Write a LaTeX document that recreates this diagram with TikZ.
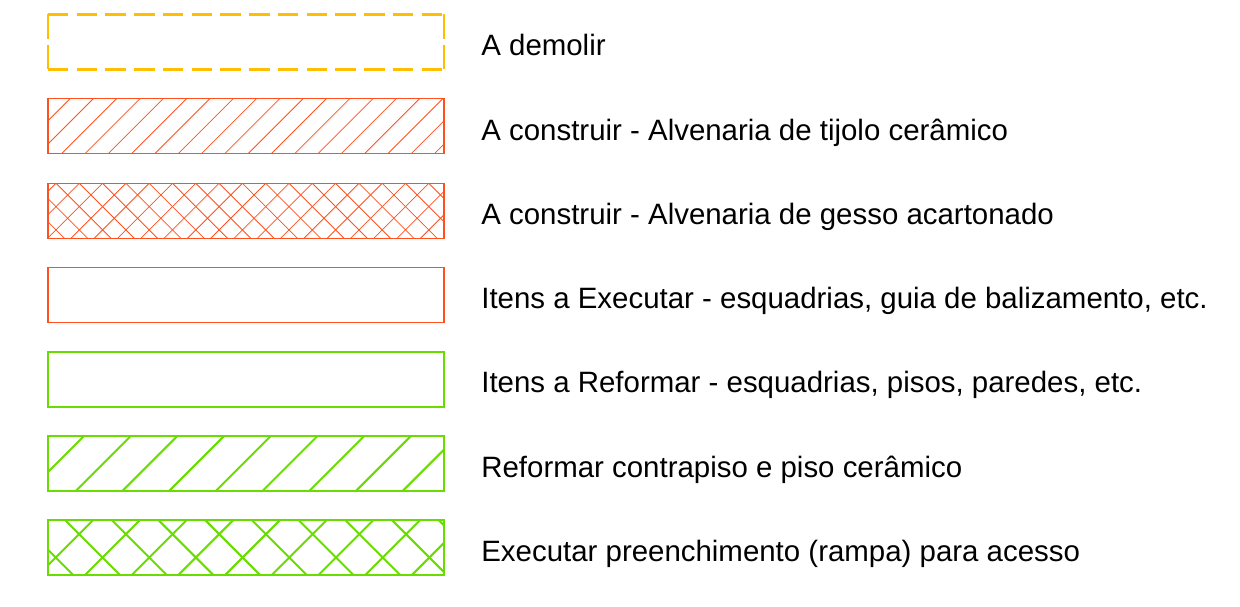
\documentclass[tikz,border=0pt]{standalone}
\usepackage{fontspec}
\setmainfont{Liberation Sans}
\definecolor{demolir}{RGB}{255,190,0}
\definecolor{construir}{RGB}{255,80,30}
\definecolor{reformar}{RGB}{105,220,0}
\tikzset{
  legenda/.style={anchor=base west, inner sep=0pt, font=\fontsize{16.75}{20}\selectfont},
  hachura/.style={construir, line width=0.45pt},
  hachuraverde/.style={reformar, line width=1.15pt},
}

\begin{document}
\begin{tikzpicture}[x=0.02cm, y=-0.02cm]
\useasboundingbox (0,0) rectangle (1240,606);

% A demolir
\draw[demolir, line width=1.4pt, dash pattern=on 11.6pt off 4.76pt] (48,14.3) -- (444,14.3);
\draw[demolir, line width=1.4pt, dash pattern=on 11.6pt off 4.76pt] (48,69.3) -- (444,69.3);
\draw[demolir, line width=1.4pt, dash pattern=on 13.9pt off 3.4pt] (48,14.3) -- (48,69.3);
\draw[demolir, line width=1.4pt, dash pattern=on 13.9pt off 3.4pt] (444,14.3) -- (444,69.3);
\node[legenda] (txtdemolir) at (481,55.7) {A demolir};

% tijolo ceramico
\begin{scope}
\clip (48,98.7) rectangle (444,153.7);
\foreach \k in {0,...,21}
  \draw[hachura] (145.4+23.3*\k-160,160) -- (145.4+23.3*\k-90,90);
\end{scope}
\draw[construir, line width=0.75pt] (48,98.7) rectangle (444,153.7);
\node[legenda] (txttijolo) at (481,140) {A construir - Alvenaria de tijolo cerâmico};

% gesso acartonado
\begin{scope}
\clip (48,183.3) rectangle (444,238.3);
\foreach \k in {0,...,21}
  \draw[hachura] (216+23.3*\k-245,245) -- (216+23.3*\k-175,175);
\foreach \k in {0,...,21}
  \draw[hachura] (-197.2+23.3*\k+175,175) -- (-197.2+23.3*\k+245,245);
\end{scope}
\draw[construir, line width=0.75pt] (48,183.3) rectangle (444,238.3);
\node[legenda] (txtgesso) at (481,224.3) {A construir - Alvenaria de gesso acartonado};

% itens a executar
\draw[construir, line width=0.75pt] (48,267.3) rectangle (444,322.3);
\node[legenda] (txtexecutar) at (481,308.6) {Itens a Executar - esquadrias, guia de balizamento, etc.};

% itens a reformar
\draw[reformar, line width=1.3pt] (48,351.7) rectangle (444,406.7);
\node[legenda] (txtreformar) at (481,392.9) {Itens a Reformar - esquadrias, pisos, paredes, etc.};

% contrapiso
\begin{scope}
\clip (48,435.7) rectangle (444,490.7);
\foreach \k in {0,...,10}
  \draw[hachuraverde] (473.3+46.7*\k-500,500) -- (473.3+46.7*\k-425,425);
\end{scope}
\draw[reformar, line width=1.3pt] (48,435.7) rectangle (444,490.7);
\node[legenda] (txtcontrapiso) at (481,477.2) {Reformar contrapiso e piso cerâmico};

% rampa
\begin{scope}
\clip (48,520) rectangle (444,575);
\foreach \k in {0,...,11}
  \draw[hachuraverde] (566.6+46.7*\k-585,585) -- (566.6+46.7*\k-510,510);
\foreach \k in {0,...,12}
  \draw[hachuraverde] (-548.4+46.7*\k+510,510) -- (-548.4+46.7*\k+585,585);
\end{scope}
\draw[reformar, line width=1.3pt] (48,520) rectangle (444,575);
\node[legenda] (txtrampa) at (481,561.5) {Executar preenchimento (rampa) para acesso};

\end{tikzpicture}
\end{document}
